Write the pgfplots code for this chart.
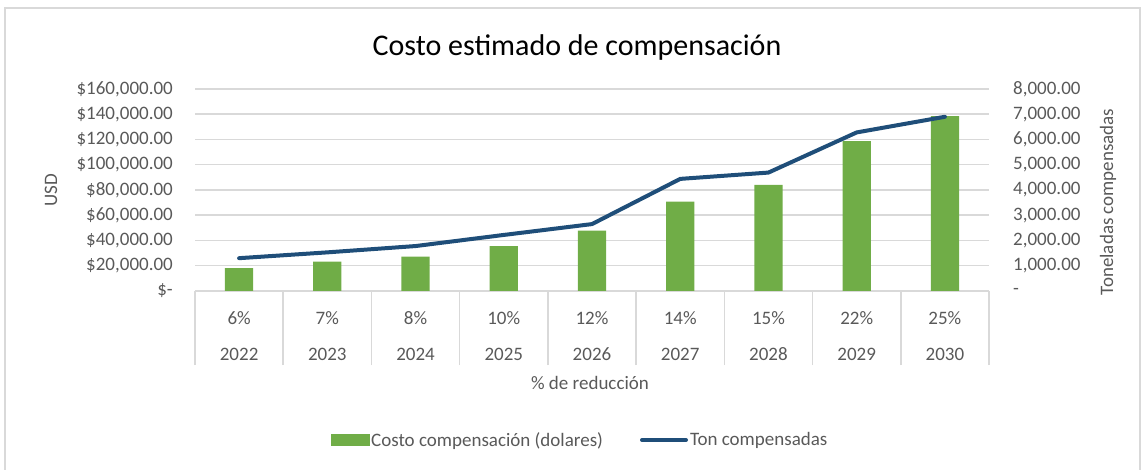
\documentclass[border=0pt]{standalone}
\usepackage{pgfplots}
\pgfplotsset{compat=1.18}
\usepackage{fontspec}
\setmainfont{Carlito}
\definecolor{barG}{HTML}{70AD47}
\definecolor{lineB}{HTML}{1F4E79}
\definecolor{txt}{HTML}{595959}
\definecolor{gridc}{HTML}{D9D9D9}
\newcommand{\tf}{\fontsize{19}{22}\selectfont}
\begin{document}
\begin{tikzpicture}[x=1pt,y=1pt]
\useasboundingbox (0,0) rectangle (1145,470);
\draw[gridc, line width=2pt] (5,0) -- (5,462) -- (1140,462) -- (1140,0);
\node[font=\fontsize{30}{34}\selectfont, text=black] at (577,422) {Costo estimado de compensación};
\node[font=\tf, text=txt, rotate=90] at (51,280) {USD};
\node[font=\tf, text=txt, rotate=90] at (1108,268) {Toneladas compensadas};
\node[font=\tf, text=txt] at (590,87) {\% de reducción};
\begin{axis}[
  at={(195pt,179pt)}, anchor=south west, scale only axis,
  width=794pt, height=202pt,
  xmin=-0.5, xmax=8.5, ymin=0, ymax=160000,
  axis x line*=bottom, axis y line*=left,
  y axis line style={draw=none},
  x axis line style={gridc, line width=1.5pt},
  ymajorgrids, grid style={gridc, line width=1.5pt},
  ytick={0,20000,...,160000},
  yticklabels={\$-\hspace{10pt},{\$20,000.00},{\$40,000.00},{\$60,000.00},{\$80,000.00},{\$100,000.00},{\$120,000.00},{\$140,000.00},{\$160,000.00}},
  ytick style={draw=none},
  yticklabel style={anchor=east, inner sep=0pt, xshift=52pt, font=\tf, text=txt},
  scaled y ticks=false,
  xtick={-0.5,0.5,...,8.5}, xticklabels={},
  tick align=outside, major tick length=74pt,
  xtick style={gridc, line width=1.5pt},
  extra x ticks={0,1,...,8},
  extra x tick labels={{6\%\\2022},{7\%\\2023},{8\%\\2024},{10\%\\2025},{12\%\\2026},{14\%\\2027},{15\%\\2028},{22\%\\2029},{25\%\\2030}},
  extra x tick style={major tick length=0pt, xticklabel style={align=center, anchor=north, inner sep=0pt, yshift=-20pt, font=\fontsize{19}{36}\selectfont, text=txt}},
]
\addplot[ybar, bar width=0.32, fill=barG, draw=none] coordinates {
(0,18200) (1,23200) (2,27200) (3,35600) (4,47800) (5,70700) (6,84000) (7,118800) (8,138600)};
\end{axis}
\begin{axis}[
  at={(195pt,179pt)}, anchor=south west, scale only axis,
  width=794pt, height=202pt,
  xmin=-0.5, xmax=8.5, ymin=0, ymax=8000,
  axis x line=none, axis y line*=right,
  y axis line style={draw=none},
  ytick={0,1000,...,8000},
  yticklabels={-,{1,000.00},{2,000.00},{3,000.00},{4,000.00},{5,000.00},{6,000.00},{7,000.00},{8,000.00}},
  ytick style={draw=none},
  yticklabel style={anchor=west, inner sep=0pt, xshift=24pt, font=\tf, text=txt},
  scaled y ticks=false,
  legend columns=2,
  legend style={draw=none, fill=none, at={(0.485,-0.738)}, anchor=center, font=\tf, text=txt,
    /tikz/every even column/.append style={column sep=35pt}},
]
\addlegendimage{legend image code/.code={\fill[barG] (0pt,-5pt) rectangle (38pt,6pt);}}
\addlegendentry{Costo compensación (dolares)}
\addlegendimage{legend image code/.code={\draw[lineB, line width=4pt, line cap=round] (0pt,0pt) -- (44pt,0pt);}}
\addlegendentry{Ton compensadas}
\addplot[lineB, line width=4pt, line join=round, line cap=round, forget plot] coordinates {
(0,1300) (1,1530) (2,1780) (3,2220) (4,2650) (5,4440) (6,4690) (7,6280) (8,6900)};
\end{axis}
\end{tikzpicture}
\end{document}
